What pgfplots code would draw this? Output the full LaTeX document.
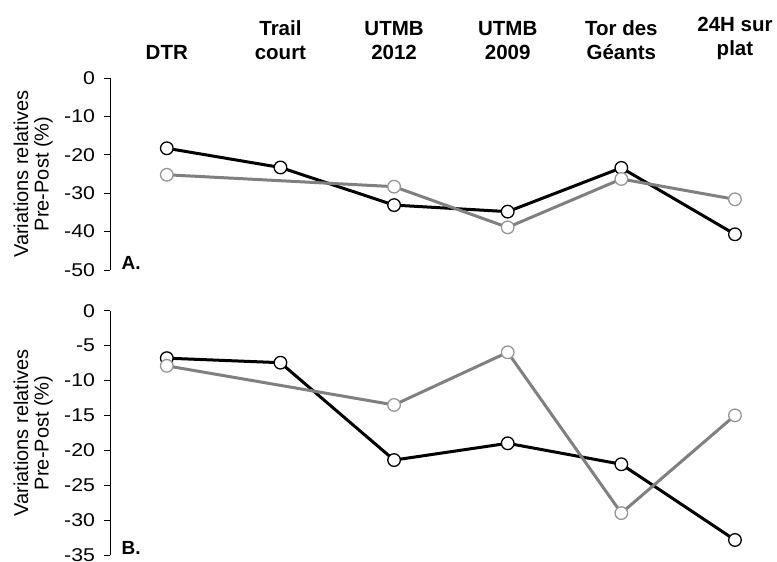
\documentclass[border=0pt]{standalone}
\usepackage{pgfplots}
\pgfplotsset{compat=1.18}
\usepackage{fontspec}
\setmainfont{Liberation Sans}
\newfontfamily\tickfont{Liberation Sans}[FakeStretch=1.15]
\definecolor{lgrey}{RGB}{128,128,128}
\definecolor{mgrey}{RGB}{150,150,150}
\begin{document}
\begin{tikzpicture}
\path[use as bounding box] (0pt,0pt) rectangle (777pt,562pt);
\pgfplotsset{
  panel/.style={
    scale only axis, width=667pt, xmin=-0.5, xmax=5.37,
    axis y line*=left, axis x line*=top,
    x axis line style={draw=none},
    y axis line style={line width=0.9pt, -},
    clip=false,
    major tick length=5.5pt, tick align=outside,
    ytick style={line width=0.9pt, black},
    xtick style={draw=none},
    yticklabel style={font=\tickfont\fontsize{18.5}{22}\selectfont, /pgf/number format/assume math mode=true, xshift=-6pt},
    ylabel={Variations relatives\\Pre-Post (\%)},
    every axis y label/.style={at={(rel axis cs:0,0.5)}, rotate=90, anchor=south,
      inner sep=0pt, yshift=57pt, align=center, font=\fontsize{20}{20.5}\selectfont},
  },
  blk/.style={black, line width=3pt, line join=round, mark=*, mark size=6.3pt,
    mark options={fill=white, draw=black, line width=1.3pt}},
  gry/.style={lgrey, line width=3pt, line join=round, mark=*, mark size=6.3pt,
    mark options={fill=white, draw=mgrey, line width=1.3pt}},
}
\begin{axis}[panel, at={(110pt,292pt)}, anchor=south west, height=192pt,
  ymin=-50, ymax=0, ytick={0,-10,-20,-30,-40,-50},
  xtick={0,1,2,3,4,5},
  xticklabels={DTR,{Trail\\court},{UTMB\\2012},{UTMB\\2009},{Tor des\\Géants},{24H sur\\plat}},
  xticklabel style={align=center, font=\bfseries\fontsize{20.5}{24}\selectfont, yshift=9pt},
]
\addplot[blk] coordinates {(0,-18.3) (1,-23.3) (2,-33.1) (3,-34.8) (4,-23.4) (5,-40.7)};
\addplot[gry] coordinates {(0,-25.2) (2,-28.3) (3,-38.9) (4,-26.3) (5,-31.6)};
\node[anchor=base west, font=\bfseries\fontsize{19}{22}\selectfont] at (rel axis cs:0,0) [xshift=8pt] {A.};
\end{axis}
\begin{axis}[panel, at={(110pt,7pt)}, anchor=south west, height=244.3pt,
  ymin=-35, ymax=0, ytick={0,-5,-10,-15,-20,-25,-30,-35},
  xtick=\empty,
]
\addplot[blk] coordinates {(0,-6.8) (1,-7.45) (2,-21.4) (3,-19.0) (4,-22.0) (5,-32.85)};
\addplot[gry] coordinates {(0,-7.9) (2,-13.5) (3,-5.96) (4,-29.0) (5,-15.0)};
\node[anchor=base west, font=\bfseries\fontsize{19}{22}\selectfont] at (rel axis cs:0,0) [xshift=8pt] {B.};
\end{axis}
\end{tikzpicture}
\end{document}
